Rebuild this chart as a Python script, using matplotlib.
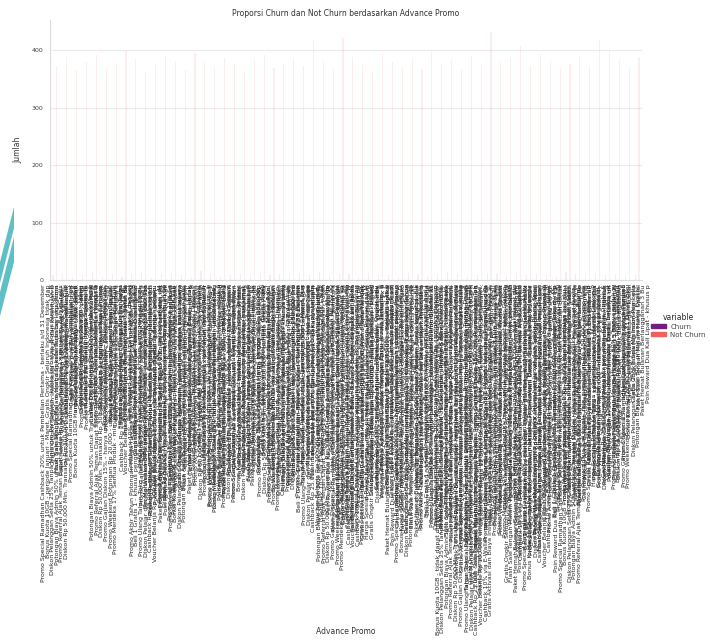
import numpy as np
import matplotlib
matplotlib.use("Agg")
import matplotlib.pyplot as plt
import seaborn as sns
from matplotlib.patches import Patch, Polygon

sns.set_style("whitegrid")
plt.rcParams["font.family"] = ["DejaVu Sans"]

# promo text pieces (labels are unreadable in the source, so these are stand-ins)
promo = [
    "Promo Special Ramadhan Cashback 20% untuk Pembelian Pertama",
    "Cashback Rp 25.000",
    "Diskon Rp 50.000 Min. Transaksi Rp 300.000",
    "Gratis Ongkir Seluruh Indonesia",
    "Promo Akhir Tahun Potongan Harga Hingga 50%",
    "Bonus Kuota 10GB",
    "Voucher Belanja Rp 100.000 untuk Member Baru",
    "Promo Gajian Diskon 15%",
    "Flash Sale Tengah Malam Harga Spesial Terbatas",
    "Beli 1 Gratis 1",
    "Diskon Pelanggan Setia 25% Tanpa Minimum Pembelian",
    "Cashback 10% via E-Wallet",
    "Promo Weekend Potongan Rp 20.000",
    "Paket Hemat Bulanan Berlangganan 3 Bulan Bayar 2 Bulan",
    "Promo Ulang Tahun Toko",
    "Potongan Biaya Admin 50% untuk Transaksi Digital",
    "Gratis Aktivasi dan Biaya Instalasi",
    "Promo Merdeka 17% Semua Produk",
    "Poin Reward Dua Kali Lipat",
    "Diskon Pelajar dan Mahasiswa 30% dengan Kartu Identitas",
    "Promo Referral Ajak Teman Dapat Saldo Rp 15.000",
    "Harga Spesial Paket Keluarga",
    "Cicilan 0% Hingga 12 Bulan dengan Kartu Kredit Tertentu",
]
details = [
    "berlaku s/d 31 Desember",
    "syarat dan ketentuan berlaku",
    "khusus pengguna aplikasi",
    "min. pembelian Rp 150.000",
    "periode Januari - Maret",
    "maksimal 1x per akun",
    "hanya untuk wilayah Jabodetabek",
    "tidak dapat digabung dengan promo lain",
    "kuota terbatas",
    "berlaku setiap hari Jumat dan Sabtu",
    "untuk pelanggan pascabayar",
]

label_chars = [85, 56, 40, 37, 41, 77, 40, 43, 56, 81,
               65, 68, 71, 62, 53, 59, 65, 65, 62, 59,
               55, 55, 65, 62, 59, 59, 73, 49, 83, 71,
               74, 78, 64, 59, 64, 79, 76, 59, 73, 70,
               102, 76, 91, 103, 76, 73, 65, 90, 81, 82,
               72, 65, 89, 65, 64, 58, 59, 59, 49, 37]

not_churn = [372, 388, 365, 380, 391, 368, 377, 399, 385, 362,
             374, 390, 381, 366, 395, 379, 370, 387, 376, 363,
             384, 392, 369, 378, 386, 373, 418, 382, 367, 422,
             389, 375, 364, 393, 380, 371, 385, 368, 396, 377,
             383, 366, 390, 374, 431, 379, 387, 408, 372, 394,
             381, 369, 376, 388, 372, 417, 398, 383, 370, 389]
churn = [8, 12, 5, 9, 14, 7, 10, 6, 11, 13,
         4, 9, 12, 8, 6, 15, 10, 7, 9, 11,
         5, 13, 8, 10, 6, 12, 9, 14, 7, 11,
         10, 6, 13, 8, 9, 5, 12, 10, 7, 11,
         14, 8, 6, 9, 13, 10, 7, 12, 8, 11,
         9, 6, 14, 10, 5, 12, 8, 11, 7, 9]

n = len(not_churn)
labels = []
for i in range(n):
    rows = []
    for j in range(6):
        a = (3 * i + 5 * j) % len(promo)
        b = (i + 4 * j) % len(details)
        c = (7 * i + 2 * j + 1) % len(promo)
        s = promo[a] + " - " + details[b] + ", " + promo[c] + " " + details[(b + 3) % len(details)]
        rows.append(s[:label_chars[i]].rstrip().ljust(label_chars[i], "."))
    labels.append("\n".join(rows))

pal = sns.color_palette("magma", 2)

fig = plt.figure(figsize=(7.1, 6.4), dpi=100)
ax = fig.add_axes([50 / 710, 1 - 280 / 640, 592 / 710, 260 / 640])

x = np.arange(n)
ax.bar(x - 0.2, churn, width=0.12, color=pal[0], alpha=0.08, linewidth=0)
ax.bar(x + 0.2, not_churn, width=0.12, color=pal[1], alpha=0.1, linewidth=0)

ax.set_xlim(-0.5, n - 0.5)
ax.set_yticks([0, 100, 200, 300, 400])
ax.xaxis.grid(False)
ax.yaxis.grid(True, color="#ebebeb", linewidth=0.8)
for s in ["top", "right"]:
    ax.spines[s].set_visible(False)
for s in ["left", "bottom"]:
    ax.spines[s].set_color("#dddddd")
    ax.spines[s].set_linewidth(0.8)

ax.set_xticks(x)
ax.set_xticklabels(labels, rotation=90, fontsize=4.5, linespacing=0.9,
                   multialignment="right", color="#222222")
ax.tick_params(axis="x", length=0, pad=3)
ax.tick_params(axis="y", length=0, pad=5, labelsize=4.5, labelcolor="#444444")

ax.set_title("Proporsi Churn dan Not Churn berdasarkan Advance Promo",
             fontsize=5.5, pad=3, color="#333333")
ax.set_ylabel("Jumlah", fontsize=5.5, color="#333333")
ax.yaxis.set_label_coords(-0.046, 0.5)
ax.set_xlabel("Advance Promo", fontsize=5.5, color="#333333")
ax.xaxis.set_label_coords(0.5, -1.335)

handles = [Patch(color=pal[0], label="Churn"), Patch(color=pal[1], label="Not Churn")]
fig.legend(handles=handles, title="variable", loc="center left",
           bbox_to_anchor=(648 / 710, 0.492), frameon=False, fontsize=5,
           title_fontsize=5.5, handlelength=2.2, handleheight=0.6,
           labelspacing=0.3, borderaxespad=0, handletextpad=0.6,
           labelcolor="#444444")

# teal decoration on the left edge of the source image
def px(pts):
    return [(a / 710, 1 - b / 640) for a, b in pts]

for pts in ([(0, 262), (14, 207), (14, 228), (0, 283)],
            [(0, 292), (14, 237), (14, 262), (0, 316)]):
    fig.patches.append(Polygon(px(pts), closed=True, transform=fig.transFigure,
                               color="#5fbfc6", linewidth=0))

fig.savefig("out.png", dpi=100)
